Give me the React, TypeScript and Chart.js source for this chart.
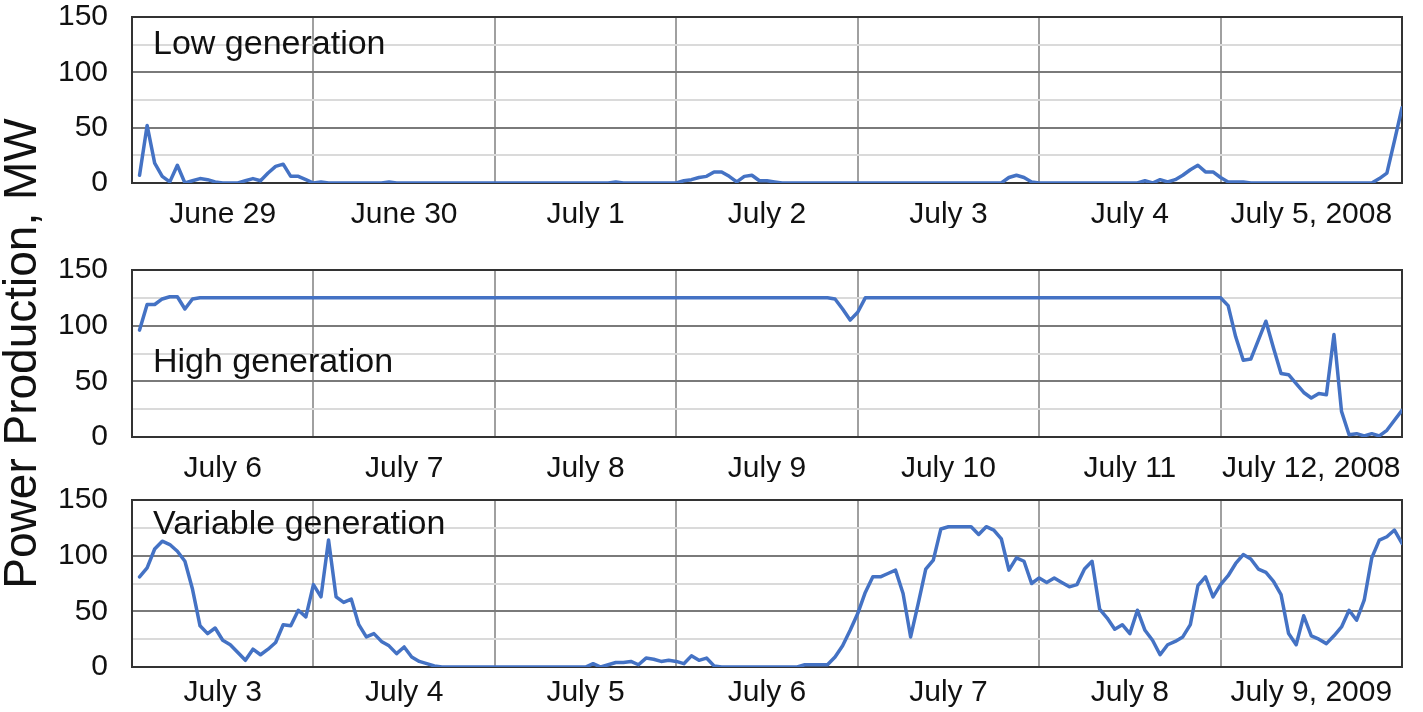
import React, { useEffect, useRef } from "react";
import { Chart, registerables } from "chart.js";

Chart.register(...registerables);

// ---------- data ----------
const lowDayLabels = ["June 29", "June 30", "July 1", "July 2", "July 3", "July 4", "July 5, 2008"];
const highDayLabels = ["July 6", "July 7", "July 8", "July 9", "July 10", "July 11", "July 12, 2008"];
const variableDayLabels = ["July 3", "July 4", "July 5", "July 6", "July 7", "July 8", "July 9, 2009"];

const panelNames = ["Low generation", "High generation", "Variable generation"];
const yAxisTitle = "Power Production, MW";

// hourly values, hours 1..168
const lowValues = [
  7, 52, 18, 6, 1, 16, 0, 2, 4, 3, 1, 0,
  0, 0, 2, 4, 2, 9, 15, 17, 6, 6, 3, 0,
  1, 0, 0, 0, 0, 0, 0, 0, 0, 1, 0, 0,
  0, 0, 0, 0, 0, 0, 0, 0, 0, 0, 0, 0,
  0, 0, 0, 0, 0, 0, 0, 0, 0, 0, 0, 0,
  0, 0, 0, 1, 0, 0, 0, 0, 0, 0, 0, 0,
  2, 3, 5, 6, 10, 10, 6, 1, 6, 7, 2, 2,
  1, 0, 0, 0, 0, 0, 0, 0, 0, 0, 0, 0,
  0, 0, 0, 0, 0, 0, 0, 0, 0, 0, 0, 0,
  0, 0, 0, 0, 0, 0, 0, 5, 7, 5, 1, 0,
  0, 0, 0, 0, 0, 0, 0, 0, 0, 0, 0, 0,
  0, 2, 0, 3, 1, 3, 7, 12, 16, 10, 10, 5,
  1, 1, 1, 0, 0, 0, 0, 0, 0, 0, 0, 0,
  0, 0, 0, 0, 0, 0, 0, 0, 4, 9, 38, 68,
];

const highValues = [
  96, 119, 119, 124, 126, 126, 115, 124, 125, 125, 125, 125,
  125, 125, 125, 125, 125, 125, 125, 125, 125, 125, 125, 125,
  125, 125, 125, 125, 125, 125, 125, 125, 125, 125, 125, 125,
  125, 125, 125, 125, 125, 125, 125, 125, 125, 125, 125, 125,
  125, 125, 125, 125, 125, 125, 125, 125, 125, 125, 125, 125,
  125, 125, 125, 125, 125, 125, 125, 125, 125, 125, 125, 125,
  125, 125, 125, 125, 125, 125, 125, 125, 125, 125, 125, 125,
  125, 125, 125, 125, 125, 125, 125, 125, 124, 115, 105, 112,
  125, 125, 125, 125, 125, 125, 125, 125, 125, 125, 125, 125,
  125, 125, 125, 125, 125, 125, 125, 125, 125, 125, 125, 125,
  125, 125, 125, 125, 125, 125, 125, 125, 125, 125, 125, 125,
  125, 125, 125, 125, 125, 125, 125, 125, 125, 125, 125, 125,
  118, 90, 69, 70, 87, 104, 80, 57, 56, 48, 40, 35,
  39, 38, 92, 23, 2, 3, 1, 3, 1, 6, 15, 24,
];

const variableValues = [
  81, 89, 106, 113, 110, 104, 95, 70, 37, 30, 35, 24,
  20, 13, 6, 16, 11, 16, 22, 38, 37, 51, 45, 74,
  63, 114, 63, 58, 61, 38, 27, 30, 23, 19, 12, 18,
  9, 5, 3, 1, 0, 0, 0, 0, 0, 0, 0, 0,
  0, 0, 0, 0, 0, 0, 0, 0, 0, 0, 0, 0,
  3, 0, 2, 4, 4, 5, 2, 8, 7, 5, 6, 5,
  3, 10, 6, 8, 1, 0, 0, 0, 0, 0, 0, 0,
  0, 0, 0, 0, 2, 2, 2, 2, 9, 19, 33, 48,
  67, 81, 81, 84, 87, 66, 27, 57, 88, 96, 124, 126,
  126, 126, 126, 119, 126, 123, 115, 87, 98, 95, 75, 80,
  76, 80, 76, 72, 74, 88, 95, 52, 44, 34, 38, 30,
  51, 33, 24, 11, 20, 23, 27, 38, 73, 81, 63, 74,
  82, 93, 101, 97, 88, 85, 77, 65, 30, 20, 46, 28,
  25, 21, 28, 36, 51, 42, 60, 98, 114, 117, 123, 111,
];

const yMin = 0;
const yMax = 150;
const yStep = 25;
const yLabelStep = 50;
const hoursPerDay = 24;
const totalHours = 168;

// ---------- style ----------
const FONT = '"Liberation Sans", Arial, Helvetica, sans-serif';
const W = 1423;
const H = 712;
const PLOT_LEFT = 132;
const PLOT_RIGHT = 1402;
const X_AXIS_H = 45;

const framePlugin = {
  id: "frameAndNote",
  beforeDatasetsDraw(chart: any, _args: any, opts: any) {
    const { ctx, chartArea } = chart;
    ctx.save();
    if (opts.text) {
      ctx.font = `${opts.size}px ${FONT}`;
      ctx.fillStyle = "#111";
      ctx.textBaseline = "alphabetic";
      ctx.textAlign = "left";
      ctx.fillText(opts.text, chartArea.left + opts.dx, chartArea.top + opts.dy);
    }
    ctx.strokeStyle = "#333";
    ctx.lineWidth = 2;
    ctx.strokeRect(chartArea.left, chartArea.top, chartArea.right - chartArea.left, chartArea.bottom - chartArea.top);
    ctx.restore();
  },
};

type PanelCfg = {
  values: number[];
  dayLabels: string[];
  name: string;
  top: number;
  bottom: number;
  noteDy: number;
  labelPad: number;
  showTitle: boolean;
};

function PanelChart({ cfg }: { cfg: PanelCfg }) {
  const ref = useRef<HTMLCanvasElement | null>(null);
  useEffect(() => {
    if (!ref.current) return;
    const data = cfg.values.map((v, i) => ({ x: i + 1, y: v }));
    const chart = new Chart(ref.current, {
      type: "line",
      data: {
        datasets: [
          {
            data,
            borderColor: "#4472c4",
            borderWidth: 3.5,
            pointRadius: 0,
            fill: false,
            tension: 0,
            borderJoinStyle: "round",
            borderCapStyle: "round",
          } as any,
        ],
      },
      options: {
        responsive: false,
        animation: false,
        devicePixelRatio: 1,
        events: [],
        layout: {
          padding: {
            left: 0,
            right: W - PLOT_RIGHT,
            top: cfg.top,
            bottom: H - cfg.bottom - X_AXIS_H,
          },
        },
        scales: {
          x: {
            type: "linear",
            min: 0,
            max: totalHours,
            afterFit: (s: any) => {
              s.height = X_AXIS_H;
              s.paddingLeft = 0;
              s.paddingRight = 0;
            },
            border: { display: false },
            grid: {
              drawTicks: false,
              lineWidth: 2,
              color: (c: any) => (c.tick && c.tick.value % hoursPerDay === 0 ? "#a0a0a0" : "rgba(0,0,0,0)"),
            },
            ticks: {
              stepSize: hoursPerDay / 2,
              autoSkip: false,
              maxRotation: 0,
              minRotation: 0,
              padding: cfg.labelPad,
              color: "#111",
              font: { family: FONT, size: 30 },
              callback: (value: any) => {
                const v = Number(value);
                if (v % hoursPerDay === hoursPerDay / 2) return cfg.dayLabels[(v - hoursPerDay / 2) / hoursPerDay];
                return "";
              },
            },
          },
          y: {
            min: yMin,
            max: yMax,
            afterFit: (s: any) => {
              s.width = PLOT_LEFT;
              s.paddingTop = 0;
              s.paddingBottom = 0;
            },
            border: { display: false },
            grid: {
              drawTicks: false,
              lineWidth: 2,
              color: (c: any) => (c.tick && c.tick.value % yLabelStep === 0 ? "#7a7a7a" : "#dadada"),
            },
            ticks: {
              stepSize: yStep,
              autoSkip: false,
              padding: 24,
              color: "#111",
              font: { family: FONT, size: 30 },
              callback: (value: any) => (Number(value) % yLabelStep === 0 ? String(value) : ""),
            },
            title: {
              display: cfg.showTitle,
              text: yAxisTitle,
              color: "#111",
              font: { family: FONT, size: 46, lineHeight: 1 },
              padding: { top: 0, bottom: 0 },
            },
          },
        },
        plugins: {
          legend: { display: false },
          tooltip: { enabled: false },
          frameAndNote: { text: cfg.name, size: 34, dx: 21, dy: cfg.noteDy },
        } as any,
      },
      plugins: [framePlugin],
    });
    return () => chart.destroy();
  }, [cfg]);
  return (
    <canvas
      ref={ref}
      width={W}
      height={H}
      style={{ position: "absolute", left: 0, top: 0, width: W, height: H }}
    />
  );
}

const panels: PanelCfg[] = [
  { values: lowValues, dayLabels: lowDayLabels, name: panelNames[0], top: 17, bottom: 183, noteDy: 37, labelPad: 14, showTitle: false },
  { values: highValues, dayLabels: highDayLabels, name: panelNames[1], top: 270, bottom: 437, noteDy: 102, labelPad: 14, showTitle: true },
  { values: variableValues, dayLabels: variableDayLabels, name: panelNames[2], top: 500, bottom: 667, noteDy: 34, labelPad: 8, showTitle: false },
];

export default function App() {
  return (
    <div style={{ position: "fixed", left: 0, top: 0, width: W, height: H, background: "#fff" }}>
      {panels.map((p, i) => (
        <PanelChart key={i} cfg={p} />
      ))}
    </div>
  );
}
